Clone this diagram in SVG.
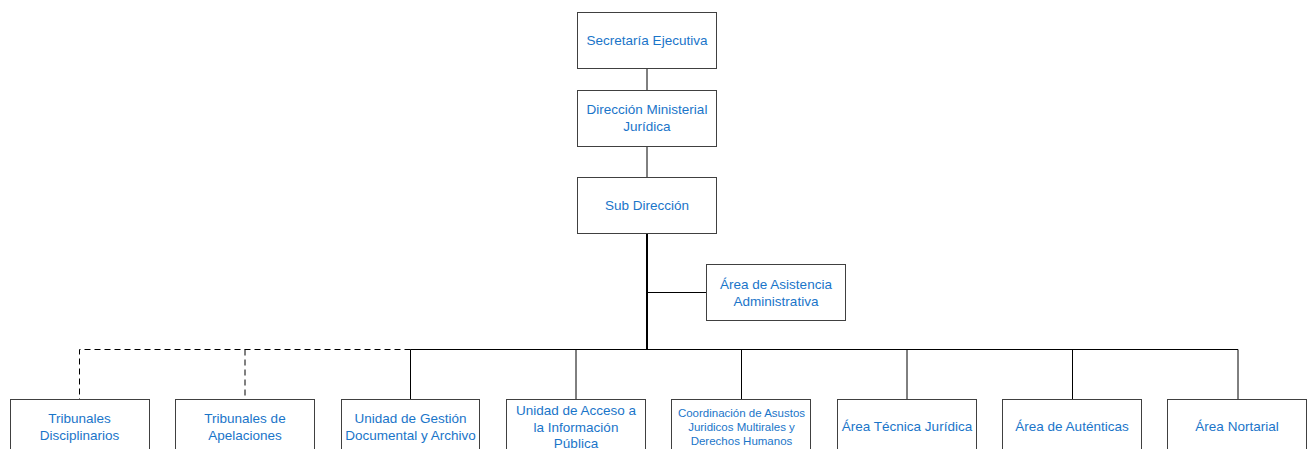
<svg xmlns="http://www.w3.org/2000/svg" width="1312" height="449" viewBox="0 0 1312 449">
<style>
.box{fill:#fff;stroke:#404040;stroke-width:1}
.t{font-family:"Liberation Sans",Arial,sans-serif;font-size:13.5px;fill:#1a75c9;text-anchor:middle}
.s{font-size:11.5px}
.c{stroke:#000;stroke-width:1;fill:none}
.d{stroke:#000;stroke-width:1;fill:none;stroke-dasharray:6,4}
</style>
<rect width="1312" height="449" fill="#fff"/>
<g id="connectors">
<line class="c" x1="647" y1="68" x2="647" y2="90"/>
<line class="c" x1="647" y1="147" x2="647" y2="177"/>
<line class="c" x1="647" y1="233" x2="647" y2="349.5" style="stroke-width:2"/>
<line class="c" x1="647" y1="292.5" x2="706" y2="292.5"/>
<path class="c" d="M410.5 349.5 H1238 V399"/>
<path class="d" d="M410.5 349.5 H79.5 V399"/>
<line class="d" x1="245" y1="349.5" x2="245" y2="399"/>
<line class="c" x1="410.5" y1="349.5" x2="410.5" y2="399"/>
<line class="c" x1="576" y1="349.5" x2="576" y2="399"/>
<line class="c" x1="741.5" y1="349.5" x2="741.5" y2="399"/>
<line class="c" x1="907" y1="349.5" x2="907" y2="399"/>
<line class="c" x1="1072.5" y1="349.5" x2="1072.5" y2="399"/>
</g>
<g id="n1"><rect class="box" x="577.5" y="12.5" width="139" height="56"/><text class="t" x="647" y="45">Secretaría Ejecutiva</text></g>
<g id="n2"><rect class="box" x="577.5" y="90.5" width="139" height="56"/><text class="t" x="647" y="114">Dirección Ministerial</text><text class="t" x="647" y="131">Jurídica</text></g>
<g id="n3"><rect class="box" x="577.5" y="177.5" width="139" height="56"/><text class="t" x="647" y="210">Sub Dirección</text></g>
<g id="n4"><rect class="box" x="706.5" y="264.5" width="139" height="56"/><text class="t" x="776" y="289">Área de Asistencia</text><text class="t" x="776" y="306">Administrativa</text></g>
<g id="n5"><rect class="box" x="10.5" y="399.5" width="139" height="57"/><text class="t" x="79.5" y="423">Tribunales</text><text class="t" x="79.5" y="440">Disciplinarios</text></g>
<g id="n6"><rect class="box" x="175.5" y="399.5" width="139" height="57"/><text class="t" x="245" y="423">Tribunales de</text><text class="t" x="245" y="440">Apelaciones</text></g>
<g id="n7"><rect class="box" x="341.5" y="399.5" width="138" height="57"/><text class="t" x="410.5" y="423">Unidad de Gestión</text><text class="t" x="410.5" y="440">Documental y Archivo</text></g>
<g id="n8"><rect class="box" x="506.5" y="399.5" width="139" height="57"/><text class="t" x="576" y="415">Unidad de Acceso a</text><text class="t" x="576" y="432">la Información</text><text class="t" x="576" y="448">Pública</text></g>
<g id="n9"><rect class="box" x="671.5" y="399.5" width="139" height="57"/><text class="t s" x="741.5" y="417">Coordinación de Asustos</text><text class="t s" x="741.5" y="431">Juridicos Multirales y</text><text class="t s" x="741.5" y="445">Derechos Humanos</text></g>
<g id="n10"><rect class="box" x="837.5" y="399.5" width="139" height="57"/><text class="t" x="907" y="431">Área Técnica Jurídica</text></g>
<g id="n11"><rect class="box" x="1002.5" y="399.5" width="139" height="57"/><text class="t" x="1072" y="431">Área de Auténticas</text></g>
<g id="n12"><rect class="box" x="1167.5" y="399.5" width="139" height="57"/><text class="t" x="1237" y="431">Área Nortarial</text></g>
</svg>
